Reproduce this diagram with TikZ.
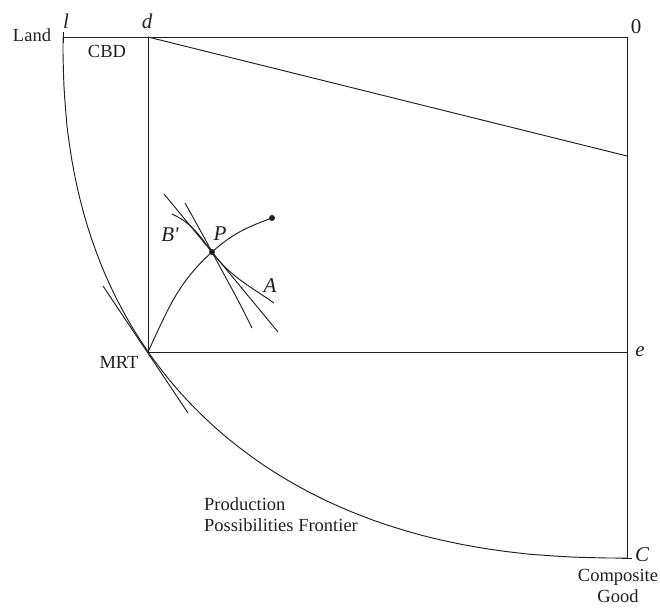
\documentclass[tikz,border=0pt]{standalone}
\usepackage{fontspec}
\setmainfont{Liberation Serif}
\definecolor{ink}{RGB}{35,31,32}

\begin{document}
\begin{tikzpicture}[x=1pt,y=1pt,
    curve/.style={line width=0.95pt,draw=ink},
    lbl/.style={font=\fontsize{18.5}{21}\selectfont,text=ink,inner sep=0pt},
    var/.style={font=\fontsize{21}{24}\selectfont\itshape,text=ink,inner sep=0pt},
    spot/.style={circle,fill=ink,inner sep=0pt,minimum size=6pt}]
    \useasboundingbox (0,0) rectangle (660,-610);
    % corner points
    \coordinate (l) at (63,-37);
    \coordinate (d) at (148,-37);
    \coordinate (o) at (627,-37);
    \coordinate (rent) at (627,-156);
    \coordinate (MRT) at (148,-352);
    \coordinate (e) at (627,-352);
    \coordinate (C) at (627,-558);
    \coordinate (P) at (212,-252);
    \coordinate (tip) at (272,-218);
    % frame
    \draw[curve] (l) -- (o) -- (C);
    \draw[curve] (d) -- (MRT) -- (e);
    \draw[curve] (d) -- (rent);
    \draw[curve] ([yshift=5pt]l) -- ([yshift=-6pt]l);
    \draw[curve] ([xshift=-5pt]C) -- ([xshift=5pt]C);
    % production possibilities frontier
    \draw[curve] (l) -- plot[domain=0.05:89.95,samples=150]
        ({627-564*pow(cos(\x),0.8696)},{-37-521*pow(sin(\x),0.8696)}) -- (C);
    \draw[curve] ([shift={(-45,66)}]MRT) -- ([shift={(40,-61)}]MRT);
    % path through P
    \draw[curve] (MRT) to[out=65,in=-138] (P) to[out=42,in=-160] (tip);
    \draw[curve] ([shift={(-48,58)}]P) -- ([shift={(66,-80)}]P);
    \draw[curve] ([shift={(-27,49)}]P) to[out=-61,in=118] (P) to[out=-62,in=116] ([shift={(40,-76)}]P);
    \draw[curve] ([shift={(-40,38)}]P) to[out=-25,in=127] (P) to[out=-53,in=145] ([shift={(62,-51)}]P);
    \node[spot] (Pdot) at (P) {};
    \node[spot] (tipdot) at (tip) {};
    % labels
    \node[lbl] (land) at (32,-35) {Land};
    \node[var] (lname) at (66,-21) {l};
    \node[var] (dname) at (147,-21) {d};
    \node[lbl,font=\fontsize{21}{24}\selectfont] (oname) at (636,-27) {0};
    \node[lbl] (cbd) at (107,-51) {CBD};
    \node[var] (ename) at (640,-352) {e};
    \node[var] (Cname) at (642,-555) {C};
    \node[lbl,align=center] (good) at (618,-586) {Composite\\Good};
    \node[lbl,align=left,anchor=west] (ppf) at (204,-515) {Production\\Possibilities Frontier};
    \node[lbl] (mrt) at (119,-362) {MRT};
    \node[var] (Bname) at (170,-235) {B′};
    \node[var] (Pname) at (220,-234) {P};
    \node[var] (Aname) at (270,-286) {A};
\end{tikzpicture}
\end{document}
